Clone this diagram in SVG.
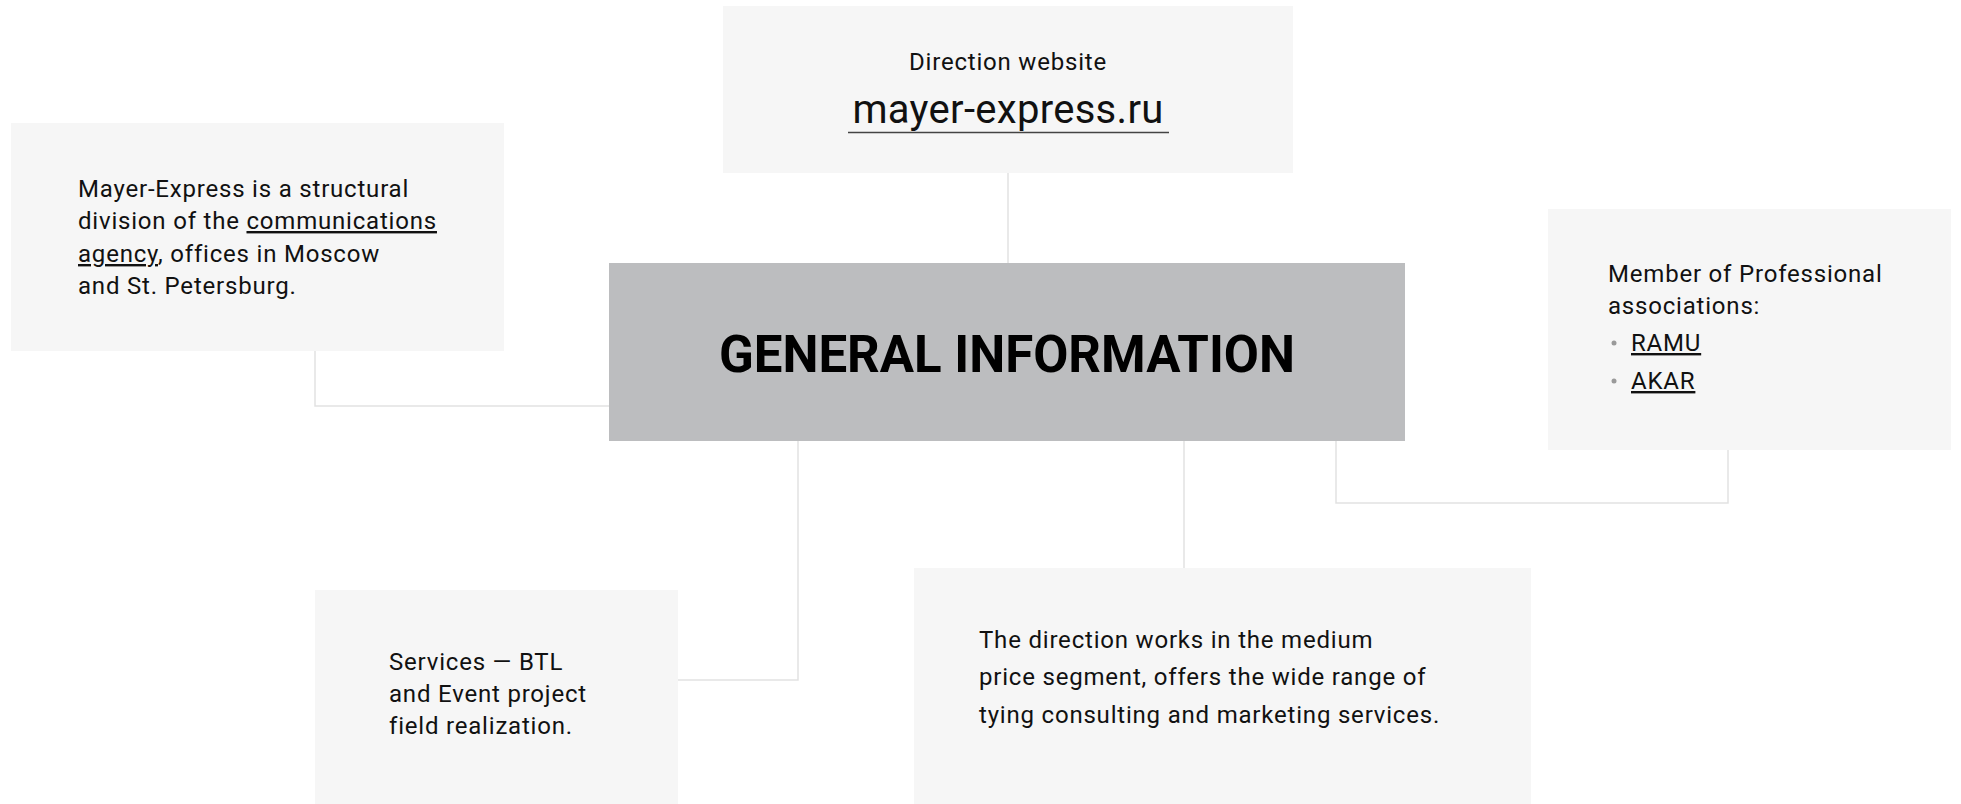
<svg xmlns="http://www.w3.org/2000/svg" width="1961" height="804" viewBox="0 0 1961 804">
<style>
.box{fill:#f6f6f6}
.center{fill:#bcbdbf}
.conn{fill:none;stroke:#e2e2e2;stroke-width:1.5}
.t{font-family:Roboto,"Liberation Sans",sans-serif;font-size:24px;fill:#111;letter-spacing:0.8px}
.u{text-decoration:underline}
.dot{fill:#9a9a9a}
</style>
<rect width="1961" height="804" fill="#ffffff"/>
<g id="connectors">
<path class="conn" d="M1008 173V263"/>
<path class="conn" d="M315 351V406H609"/>
<path class="conn" d="M1336 440V503H1728V450"/>
<path class="conn" d="M798 440V680H678"/>
<path class="conn" d="M1184 440V568"/>
</g>
<g id="node-website">
<rect class="box" x="723" y="6" width="570" height="167"/>
<text class="t" x="1008" y="70" text-anchor="middle">Direction website</text>
<text class="t" x="1008" y="123" text-anchor="middle" style="font-size:40px;letter-spacing:0.3px">mayer-express.ru</text>
<line x1="848" y1="132.5" x2="1169" y2="132.5" stroke="#444" stroke-width="1.5"/>
</g>
<g id="node-structure">
<rect class="box" x="11" y="123" width="493" height="228"/>
<text class="t" x="78" y="197">Mayer-Express is a structural</text>
<text class="t" x="78" y="229">division of the <tspan class="u">communications</tspan></text>
<text class="t" x="78" y="262"><tspan class="u">agency</tspan>, offices in Moscow</text>
<text class="t" x="78" y="294">and St. Petersburg.</text>
</g>
<g id="node-center">
<rect class="center" x="609" y="263" width="796" height="178"/>
<text x="1007" y="372" text-anchor="middle" style="font-family:Roboto,'Liberation Sans',sans-serif;font-size:51px;font-weight:bold;fill:#000">GENERAL INFORMATION</text>
</g>
<g id="node-associations">
<rect class="box" x="1548" y="209" width="403" height="241"/>
<text class="t" x="1608" y="282">Member of Professional</text>
<text class="t" x="1608" y="314">associations:</text>
<circle class="dot" cx="1614" cy="343" r="2.5"/>
<text class="t u" x="1631" y="351">RAMU</text>
<circle class="dot" cx="1614" cy="381" r="2.5"/>
<text class="t u" x="1631" y="389">AKAR</text>
</g>
<g id="node-services">
<rect class="box" x="315" y="590" width="363" height="214"/>
<text class="t" x="389" y="670">Services — BTL</text>
<text class="t" x="389" y="702">and Event project</text>
<text class="t" x="389" y="734">field realization.</text>
</g>
<g id="node-segment">
<rect class="box" x="914" y="568" width="617" height="236"/>
<text class="t" x="979" y="648">The direction works in the medium</text>
<text class="t" x="979" y="685">price segment, offers the wide range of</text>
<text class="t" x="979" y="723">tying consulting and marketing services.</text>
</g>
</svg>
